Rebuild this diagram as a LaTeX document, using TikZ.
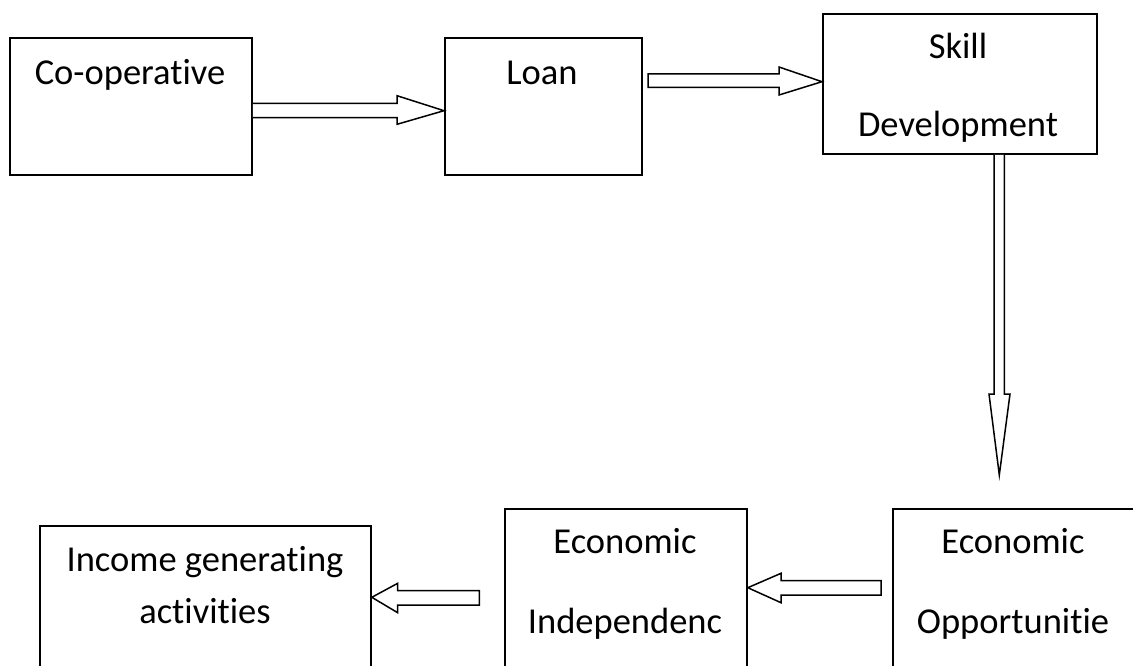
\documentclass[tikz,border=0pt]{standalone}
\usepackage{fontspec}
\setmainfont[Ligatures=NoCommon]{Carlito}
\usetikzlibrary{calc}
\begin{document}
\begin{tikzpicture}[x=1pt,y=-1pt,
  box/.style={draw=black,line width=1.8pt,fill=none,inner sep=0pt,anchor=north west},
  lbl/.style={anchor=base,inner sep=0pt,font=\fontsize{36.5}{42}\selectfont},
  fatarrow/.style={draw=black,line width=1.5pt,fill=white,line join=miter}]
\clip (0,0) rectangle (1133,666);
\fill[white] (0,0) rectangle (1133,666);
% boxes
\node[box,minimum width=242pt,minimum height=137pt] (co) at (9,37) {};
\node[box,minimum width=197pt,minimum height=137pt] (loan) at (444,37) {};
\node[box,minimum width=274pt,minimum height=140pt] (skill) at (822,13) {};
\node[box,minimum width=331pt,minimum height=160pt] (inc) at (39,525) {};
\node[box,minimum width=242pt,minimum height=180pt] (ind) at (504,508) {};
\node[box,minimum width=250pt,minimum height=180pt] (opp) at (892,508) {};
% labels
\node[lbl] (tco) at (130,85) {Co-operative};
\node[lbl] (tloan) at (542,85) {Loan};
\node[lbl] (tsk1) at (958,59) {Skill};
\node[lbl] (tsk2) at (958,137) {Development};
\node[lbl] (tinc1) at (205,571) {Income generating};
\node[lbl] (tinc2) at (205,623) {activities};
\node[lbl] (tind1) at (625,553) {Economic};
\node[lbl] (tind2) at (625,633) {Independenc};
\node[lbl] (topp1) at (1013,553) {Economic};
\node[lbl] (topp2) at (1013,633) {Opportunitie};
% arrows (block arrows)
\coordinate (t1) at (loan.west |- 0,110.7);
\draw[fatarrow] (co.east |- 0,103.3) -- (397,103.3) -- (397,95.7) -- (t1)
  -- (397,124.3) -- (397,117.7) -- (co.east |- 0,117.7);
\coordinate (t2) at (skill.west |- 0,81.7);
\draw[fatarrow] (648,74) -- (779,74) -- (779,67) -- (t2)
  -- (779,95) -- (779,87.3) -- (648,87.3) -- cycle;
\coordinate (t3) at (999.3,475);
\draw[fatarrow] (994,0 |- skill.south) -- (994,394) -- (989,394) -- (t3)
  -- (1010,394) -- (1004.3,394) -- (1004.3,0 |- skill.south);
\coordinate (t4) at (inc.east |- 0,597.3);
\draw[fatarrow] (t4) -- (397.7,583.3) -- (397.7,590.7) -- (479.3,590.7)
  -- (479.3,605) -- (397.7,605) -- (397.7,612.7) -- cycle;
\coordinate (t5) at (ind.east |- 0,587.7);
\draw[fatarrow] (t5) -- (781,573.3) -- (781,580.7) -- (881,580.7)
  -- (881,595) -- (781,595) -- (781,602.7) -- cycle;
\end{tikzpicture}
\end{document}
